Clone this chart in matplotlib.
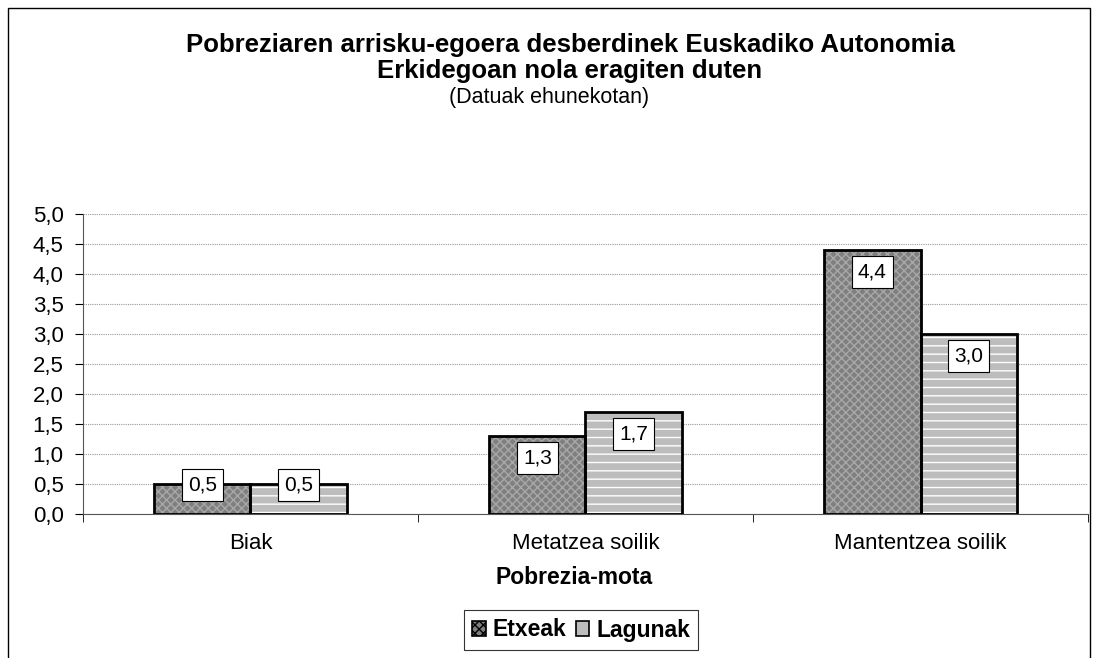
import matplotlib.pyplot as plt
import numpy as np
from matplotlib.patches import Rectangle, Patch

plt.rcParams['font.family'] = ['Liberation Sans', 'DejaVu Sans']

categories = ['Biak', 'Metatzea soilik', 'Mantentzea soilik']
etxeak = [0.5, 1.3, 4.4]
lagunak = [0.5, 1.7, 3.0]
labels_etxeak = ['0,5', '1,3', '4,4']
labels_lagunak = ['0,5', '1,7', '3,0']
yticks = [0.0, 0.5, 1.0, 1.5, 2.0, 2.5, 3.0, 3.5, 4.0, 4.5, 5.0]

fig = plt.figure(figsize=(10.99, 6.58), dpi=100)
ax = fig.add_axes([0.0755, 0.2188, 0.9145, 0.456])

# outer chart frame
fig.patches.append(Rectangle((8 / 1099, -0.05), (1090 - 8) / 1099, 1.05 - 8 / 658,
                             transform=fig.transFigure, fill=False,
                             edgecolor='black', linewidth=1.0))

x = np.arange(len(categories))
w = 0.287


def hatched_bars(xpos, vals, face, hatch, hcolor):
    ax.bar(xpos, vals, w, color=face, edgecolor=hcolor, hatch=hatch,
           linewidth=0, zorder=2)
    ax.bar(xpos, vals, w, fill=False, edgecolor='black', linewidth=2, zorder=3)


hatched_bars(x - w / 2, etxeak, '#7f7f7f', 'xxxx', '#a8a8a8')
hatched_bars(x + w / 2, lagunak, '#bdbdbd', '--', 'white')

box = dict(boxstyle='square,pad=0.3', facecolor='white', edgecolor='black', linewidth=0.8)
for xs, vals, labs in [(x - w / 2, etxeak, labels_etxeak), (x + w / 2, lagunak, labels_lagunak)]:
    for xi, v, lab in zip(xs, vals, labs):
        ax.text(xi, max(v - 0.37, 0.48), lab, ha='center', va='center',
                fontsize=15, bbox=box, zorder=4)

ax.set_xlim(-0.5, 2.5)
ax.set_ylim(0, 5)
ax.set_yticks(yticks)
ax.set_yticklabels([f'{t:.1f}'.replace('.', ',') for t in yticks], fontsize=16)
ax.set_xticks(x)
ax.set_xticklabels(categories, fontsize=16)
ax.tick_params(axis='x', which='major', length=0, pad=14)
ax.set_xticks([-0.5, 0.5, 1.5, 2.5], minor=True)
ax.tick_params(axis='x', which='minor', length=6, direction='out')
ax.tick_params(axis='y', length=6, direction='out', pad=8)
ax.yaxis.grid(True, color='#999999', linestyle=(0, (1, 1)), linewidth=0.8, zorder=0)
ax.set_axisbelow(True)
for s in ['top', 'right']:
    ax.spines[s].set_visible(False)
ax.spines['left'].set_color('#555555')
ax.spines['bottom'].set_color('#555555')

fig.text(574 / 1099, 1 - 578 / 658, 'Pobrezia-mota', ha='center', va='center',
         fontsize=16.5, fontweight='bold')

fig.text(570 / 1099, 1 - 45 / 658, 'Pobreziaren arrisku-egoera desberdinek Euskadiko Autonomia',
         ha='center', va='center', fontsize=18.5, fontweight='bold')
fig.text(570 / 1099, 1 - 71 / 658, 'Erkidegoan nola eragiten duten',
         ha='center', va='center', fontsize=18.5, fontweight='bold')
fig.text(549 / 1099, 1 - 97 / 658, '(Datuak ehunekotan)', ha='center', va='center', fontsize=15.5)

handles = [Patch(facecolor='#7f7f7f', edgecolor='black', hatch='xxxx', linewidth=1.2),
           Patch(facecolor='#bdbdbd', edgecolor='black', linewidth=1.2)]
leg = fig.legend(handles, ['Etxeak', 'Lagunak'], loc='center',
                 bbox_to_anchor=(581 / 1099, 1 - 630 / 658),
                 ncol=2, frameon=True, fancybox=False, edgecolor='black',
                 prop={'weight': 'bold', 'size': 16.5}, handlelength=0.6, handleheight=0.6,
                 handletextpad=0.3, columnspacing=0.4, borderpad=0.35)
leg.get_frame().set_linewidth(0.8)

fig.savefig('out.png', dpi=100)
